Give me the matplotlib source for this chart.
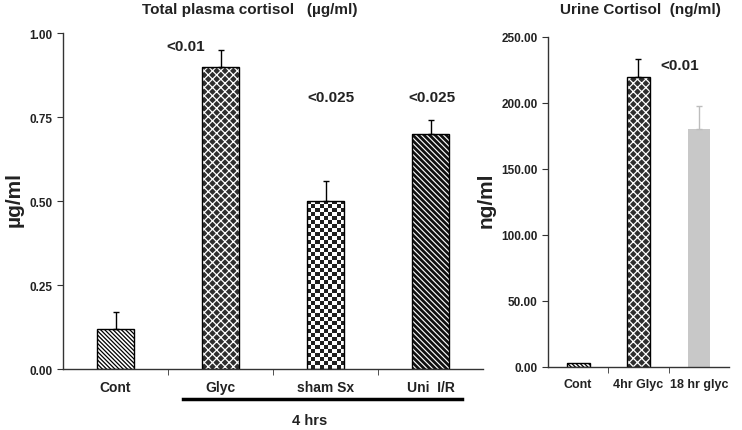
import matplotlib
matplotlib.use('Agg')
import matplotlib.pyplot as plt
from matplotlib.ticker import FixedLocator
import matplotlib.transforms as mtransforms
import numpy as np

plt.rcParams['font.family'] = ['Liberation Sans', 'DejaVu Sans']
plt.rcParams['font.weight'] = 'bold'

# plasma cortisol (ug/ml)
plasma_labels = ['Cont', 'Glyc', 'sham Sx', 'Uni  I/R']
plasma_mean = [0.12, 0.90, 0.50, 0.70]
plasma_err = [0.05, 0.05, 0.06, 0.04]
plasma_p = ['', '<0.01', '<0.025', '<0.025']

# urine cortisol (ng/ml)
urine_labels = ['Cont', '4hr Glyc', '18 hr glyc']
urine_mean = [3.0, 220.0, 180.0]
urine_err = [0.0, 13.0, 18.0]
urine_p = ['', '<0.01', '']

txt = '#222222'

fig = plt.figure(figsize=(7.42, 4.31), dpi=100)
ax1 = fig.add_axes([0.085, 0.1415, 0.566, 0.7796])
ax2 = fig.add_axes([0.7385, 0.1462, 0.244, 0.7657])


def style(ax, n, labels, fs):
    for s in ['top', 'right']:
        ax.spines[s].set_visible(False)
    for s in ['left', 'bottom']:
        ax.spines[s].set_color('#333333')
        ax.spines[s].set_linewidth(1.0)
    ax.set_xlim(0, n)
    ax.set_xticks([i + 0.5 for i in range(n)])
    ax.set_xticklabels(labels, fontsize=fs, fontweight='bold', color=txt)
    ax.xaxis.set_minor_locator(FixedLocator(list(range(1, n))))
    ax.tick_params(axis='x', which='major', length=0, pad=8)
    ax.tick_params(axis='x', which='minor', length=4, direction='out', color='#333333')
    ax.tick_params(axis='y', length=4, direction='out', labelsize=8.5, labelcolor=txt, color='#333333')
    for t in ax.get_yticklabels():
        t.set_fontweight('bold')


def hatched_bar(ax, x, h, w, kind):
    # draw fill pattern, then a black outline on top
    if kind == 'stripe':
        b = ax.bar(x, h, width=w, facecolor='white', edgecolor='black', hatch='\\' * 8, linewidth=0, zorder=2)[0]
        lw = 0.9
    elif kind == 'wide':
        b = ax.bar(x, h, width=w, facecolor='white', edgecolor='#111111', hatch='\\' * 6, linewidth=0, zorder=2)[0]
        lw = 2.0
    elif kind == 'cross':
        b = ax.bar(x, h, width=w, facecolor='#2e2e2e', edgecolor='white', hatch='xxxx', linewidth=0, zorder=2)[0]
        lw = 0.9
    elif kind == 'check':
        b = ax.bar(x, h, width=w, facecolor='white', edgecolor='white', linewidth=0, zorder=2)[0]
        lw = None
        (px0, py0) = ax.transData.transform((b.get_x(), 0))
        (px1, py1) = ax.transData.transform((b.get_x() + b.get_width(), b.get_height()))
        nc = max(1, int(round(abs(px1 - px0) / 4.0)))
        nr = max(1, int(round(abs(py1 - py0) / 4.0)))
        img = np.indices((nr, nc)).sum(axis=0) % 2
        im = ax.imshow(img, cmap='gray', vmin=-0.15, vmax=1, interpolation='nearest', aspect='auto',
                       extent=[b.get_x(), b.get_x() + b.get_width(), 0, b.get_height()], zorder=2.1)
        im.set_clip_path(b)
    if lw is not None and hasattr(b, 'set_hatch_linewidth'):
        b.set_hatch_linewidth(lw)
    ax.bar(x, h, width=w, facecolor='none', edgecolor='black', linewidth=1.0, zorder=2.5)


# left panel
ax1.set_xlim(0, len(plasma_labels))
ax1.set_ylim(0, 1.0)
x1 = [i + 0.5 for i in range(len(plasma_labels))]
kinds1 = ['stripe', 'cross', 'check', 'wide']
for xi, m, e, k in zip(x1, plasma_mean, plasma_err, kinds1):
    hatched_bar(ax1, xi, m, 0.36, k)
    ax1.errorbar(xi, m, yerr=[[0], [e]], fmt='none', ecolor='black', elinewidth=1.0, capsize=2.5, zorder=3)
ax1.set_ylim(0, 1.0)
ax1.set_yticks([0, 0.25, 0.5, 0.75, 1.0])
ax1.set_yticklabels(['%.2f' % v for v in [0, 0.25, 0.5, 0.75, 1.0]])
style(ax1, len(plasma_labels), plasma_labels, 10)

p_pos1 = [(0, 0), (-0.33, 0.96), (0.05, 0.81), (0.01, 0.81)]
for xi, p, (dx, y) in zip(x1, plasma_p, p_pos1):
    if p:
        ax1.text(xi + dx, y, p, ha='center', va='center', fontsize=11, fontweight='bold', color=txt)

# "4 hrs" bracket under groups
trans = mtransforms.blended_transform_factory(ax1.transData, ax1.transAxes)
ax1.plot([1.14, 3.8], [-0.09, -0.09], color='black', linewidth=2.5, transform=trans, clip_on=False)
ax1.text(2.35, -0.152, '4 hrs', transform=trans, ha='center', va='center', fontsize=10.5,
         fontweight='bold', color=txt)

# right panel
ax2.set_xlim(0, len(urine_labels))
ax2.set_ylim(0, 250)
x2 = [i + 0.5 for i in range(len(urine_labels))]
kinds2 = ['stripe', 'cross', None]
for xi, m, e, k in zip(x2, urine_mean, urine_err, kinds2):
    if k:
        hatched_bar(ax2, xi, m, 0.38, k)
        if e > 0:
            ax2.errorbar(xi, m, yerr=[[0], [e]], fmt='none', ecolor='black', elinewidth=1.0, capsize=2.5, zorder=3)
    else:
        ax2.bar(xi, m, width=0.36, facecolor='#c8c8c8', edgecolor='none', zorder=2)
        ax2.errorbar(xi, m, yerr=[[0], [e]], fmt='none', ecolor='#bdbdbd', elinewidth=1.0, capsize=2.5, zorder=3)
ax2.set_ylim(0, 250)
ax2.set_yticks([0, 50, 100, 150, 200, 250])
ax2.set_yticklabels(['%.2f' % v for v in [0, 50, 100, 150, 200, 250]])
style(ax2, len(urine_labels), urine_labels, 9)
for xi, p in zip(x2, urine_p):
    if p:
        ax2.text(xi + 0.68, 229, p, ha='center', va='center', fontsize=11, fontweight='bold', color=txt)

fig.text(14 / 742, 1 - 200 / 431, 'µg/ml', rotation=90, ha='center', va='center',
         fontsize=15, fontweight='bold', color=txt)
fig.text(486 / 742, 1 - 200 / 431, 'ng/ml', rotation=90, ha='center', va='center',
         fontsize=15, fontweight='bold', color=txt)

fig.text(250 / 742, 1 - 10 / 431, 'Total plasma cortisol   (µg/ml)', ha='center', va='center',
         fontsize=11, fontweight='bold', color=txt)
fig.text(640 / 742, 1 - 10 / 431, 'Urine Cortisol  (ng/ml)', ha='center', va='center',
         fontsize=11, fontweight='bold', color=txt)

fig.savefig('out.png', dpi=100, facecolor='white')
